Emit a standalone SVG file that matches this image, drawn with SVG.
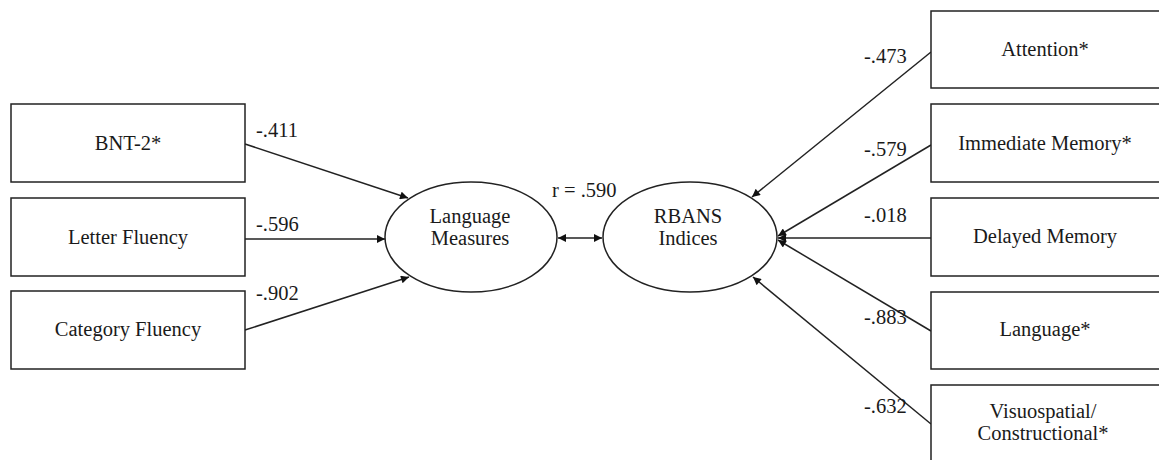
<svg xmlns="http://www.w3.org/2000/svg" width="1159" height="460" viewBox="0 0 1159 460">
<style>
.box{fill:#fff;stroke:#222;stroke-width:1.5}
.ell{fill:#fff;stroke:#222;stroke-width:1.5}
.t{font-family:"Liberation Serif","Times New Roman",serif;font-size:20.5px;fill:#1a1a1a;text-anchor:middle}
.lbl{font-family:"Liberation Serif","Times New Roman",serif;font-size:20.5px;fill:#1a1a1a}
.c{stroke:#222;stroke-width:1.5;fill:none}
</style>
<defs>
<marker id="ah" viewBox="0 0 10 10" refX="10" refY="5" markerWidth="10" markerHeight="8" markerUnits="userSpaceOnUse" orient="auto-start-reverse">
<path d="M0,0 L10,5 L0,10 z" fill="#111"/>
</marker>
</defs>
<rect width="1159" height="460" fill="#fff"/>
<g id="connectors">
<line class="c" x1="245" y1="144" x2="408" y2="198" marker-end="url(#ah)"/>
<line class="c" x1="245" y1="239" x2="385" y2="239" marker-end="url(#ah)"/>
<line class="c" x1="245" y1="330" x2="409" y2="277" marker-end="url(#ah)"/>
<line class="c" x1="558" y1="238" x2="602" y2="238" marker-start="url(#ah)" marker-end="url(#ah)"/>
<line class="c" x1="931" y1="52" x2="752" y2="197" marker-end="url(#ah)"/>
<line class="c" x1="931" y1="145" x2="778" y2="236" marker-end="url(#ah)"/>
<line class="c" x1="931" y1="238" x2="778" y2="238" marker-end="url(#ah)"/>
<line class="c" x1="931" y1="331" x2="778" y2="240" marker-end="url(#ah)"/>
<line class="c" x1="931" y1="424" x2="753" y2="277" marker-end="url(#ah)"/>
<text class="lbl" x="256" y="137">-.411</text>
<text class="lbl" x="256" y="231">-.596</text>
<text class="lbl" x="256" y="300">-.902</text>
<text class="lbl" x="552" y="197">r = .590</text>
<text class="lbl" x="864" y="63">-.473</text>
<text class="lbl" x="864" y="156">-.579</text>
<text class="lbl" x="864" y="222">-.018</text>
<text class="lbl" x="864" y="324">-.883</text>
<text class="lbl" x="864" y="413">-.632</text>
</g>
<g id="bnt2"><rect class="box" x="11" y="104" width="234" height="78"/><text class="t" x="128" y="150">BNT-2*</text></g>
<g id="letter-fluency"><rect class="box" x="11" y="198" width="234" height="78"/><text class="t" x="128" y="244">Letter Fluency</text></g>
<g id="category-fluency"><rect class="box" x="11" y="291" width="234" height="78"/><text class="t" x="128" y="336">Category Fluency</text></g>
<g id="language-measures"><ellipse class="ell" cx="471" cy="237" rx="86" ry="55"/><text class="t" x="470" y="223">Language</text><text class="t" x="470" y="245">Measures</text></g>
<g id="rbans-indices"><ellipse class="ell" cx="690" cy="237" rx="87" ry="55"/><text class="t" x="688" y="223">RBANS</text><text class="t" x="688" y="245">Indices</text></g>
<g id="attention"><rect class="box" x="931" y="11" width="240" height="77"/><text class="t" x="1045" y="56">Attention*</text></g>
<g id="immediate-memory"><rect class="box" x="931" y="104" width="240" height="78"/><text class="t" x="1045" y="150">Immediate Memory*</text></g>
<g id="delayed-memory"><rect class="box" x="931" y="198" width="240" height="78"/><text class="t" x="1045" y="243">Delayed Memory</text></g>
<g id="language"><rect class="box" x="931" y="292" width="240" height="77"/><text class="t" x="1045" y="336">Language*</text></g>
<g id="visuospatial"><rect class="box" x="931" y="385" width="240" height="90"/><text class="t" x="1043" y="418">Visuospatial/</text><text class="t" x="1043" y="440">Constructional*</text></g>
</svg>
